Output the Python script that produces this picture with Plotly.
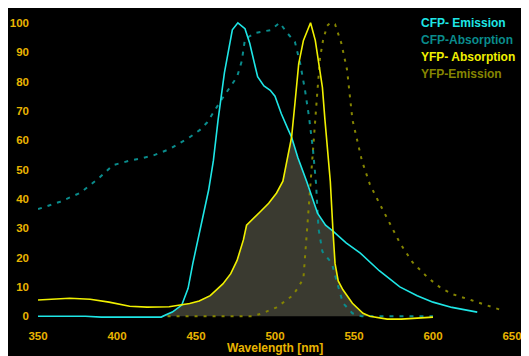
import numpy as np
import plotly.graph_objects as go

# ---- data ----
cfp_em_x = [350, 380, 390, 428, 431, 435, 441, 445, 448, 452.5, 458, 461, 464, 468, 473, 476.5, 481, 484, 489, 493, 497, 500, 504, 508, 510.5, 514.5, 520, 527, 532, 536.7, 545, 554, 566, 579, 590, 600, 612, 628]
cfp_em_y = [0, 0, -0.3, -0.3, 0.5, 1.4, 3.8, 9.5, 18, 29, 43, 53, 67, 83, 97.6, 100, 98, 93, 81.6, 78.5, 77, 75, 69, 64, 61, 54, 46, 35, 31, 29, 25, 21.5, 15.5, 10, 7, 4.8, 3, 1.4]

cfp_abs_x = [350, 364, 376.6, 388, 397.5, 408, 422, 433.5, 446, 452.5, 457, 466, 476, 479, 481, 488, 497, 503, 507.6, 512.6, 516, 519, 521.5, 524, 526, 527.5, 530, 536, 539, 543, 549, 555, 580, 600]
cfp_abs_y = [36.5, 39, 42, 46.8, 51.5, 53, 54.6, 57, 61, 63.5, 66, 73.7, 81.6, 87, 94.5, 96.6, 97.5, 100, 96.6, 93.5, 86, 77, 68, 57, 45, 30, 22, 18, 12, 4.5, 1, 0, 0, 0]

yfp_abs_x = [350, 360, 370, 383, 395, 408, 419, 433, 441, 446, 452, 459, 467, 472, 476, 480, 482, 486, 490.5, 496, 501, 505, 508, 510.5, 512.7, 515, 518, 522.5, 525.5, 528.5, 530, 531.6, 533.5, 535, 536.7, 538, 540, 543, 549, 555.7, 560, 571, 580, 592, 600]
yfp_abs_y = [5.5, 5.8, 6.1, 5.8, 4.8, 3.4, 3.1, 3.2, 3.8, 4.3, 5.2, 7, 11, 14.5, 19, 26, 31, 33, 35.5, 38.5, 42, 46, 54, 61, 73, 86, 94, 100, 94, 84, 78, 67, 55, 46, 29, 18, 12, 9, 4.4, 1, 0, -1, -1, -0.5, -0.3]

yfp_em_x = [432, 460, 486, 492, 501, 511, 515, 518, 520, 522, 524, 526.6, 528.5, 530.4, 533, 535, 538, 542, 545.6, 547.5, 549, 555, 560, 565, 571, 579, 587, 597, 605, 612.5, 624, 636, 643.7]
yfp_em_y = [0, 0, 0, 1, 3, 7, 10, 13, 28, 44, 58, 75, 88, 94, 99, 100, 99.5, 93, 84, 75, 67, 53, 45, 39.6, 33.4, 25, 18.4, 13, 9.6, 7.5, 5.5, 3.5, 2]

x_ticks = [350, 400, 450, 500, 550, 600, 650]
y_ticks = [0, 10, 20, 30, 40, 50, 60, 70, 80, 90, 100]
legend_labels = ["CFP- Emission", "CFP-Absorption", "YFP- Absorption", "YFP-Emission"]

# ---- overlap region (min of CFP emission and YFP absorption), picked from the arrays ----
ce_x, ce_y = np.array(cfp_em_x), np.array(cfp_em_y)
ya_x, ya_y = np.array(yfp_abs_x), np.array(yfp_abs_y)
m1 = (ce_x >= 428) & (ce_x <= 441)
m2 = (ya_x > 441) & (ya_x <= 510.5)
m3 = (ce_x > 510.5) & (ce_x <= 536.7)
m4 = (ya_x > 536.7) & (ya_x <= 560)
ov_x = np.concatenate([ce_x[m1], ya_x[m2], ce_x[m3], ya_x[m4]])
ov_y = np.clip(np.concatenate([ce_y[m1], ya_y[m2], ce_y[m3], ya_y[m4]]), 0, None)

C_CYAN = "#1ee6e6"
C_TEAL = "#0a8c8c"
C_YEL = "#f0f000"
C_OLIVE = "#858500"
C_GOLD = "#e8b400"

fig = go.Figure()
fig.add_trace(go.Scatter(x=ov_x, y=ov_y, mode="lines", fill="tozeroy",
                         fillcolor="#3a3a30", line=dict(width=0, color="#3a3a30"),
                         hoverinfo="skip", showlegend=False))
fig.add_trace(go.Scatter(x=yfp_em_x, y=yfp_em_y, mode="lines", name=legend_labels[3],
                         line=dict(color=C_OLIVE, width=2, dash="3px,6px")))
fig.add_trace(go.Scatter(x=cfp_abs_x, y=cfp_abs_y, mode="lines", name=legend_labels[1],
                         line=dict(color=C_TEAL, width=2, dash="4px,6px")))
fig.add_trace(go.Scatter(x=cfp_em_x, y=cfp_em_y, mode="lines", name=legend_labels[0],
                         line=dict(color=C_CYAN, width=1.6)))
fig.add_trace(go.Scatter(x=yfp_abs_x, y=yfp_abs_y, mode="lines", name=legend_labels[2],
                         line=dict(color=C_YEL, width=1.6)))

font_fam = "Liberation Sans, Arial, sans-serif"
fig.update_layout(
    width=521, height=348,
    paper_bgcolor="black", plot_bgcolor="black",
    margin=dict(l=30, r=17, t=6, b=31),
    showlegend=False,
    font=dict(family=font_fam, color=C_GOLD, size=11.5, weight="bold"),
    xaxis=dict(range=[350, 650], tickvals=x_ticks, showgrid=False, zeroline=False,
               showline=False, ticks="", ticklabelstandoff=2, automargin=False,
               tickfont=dict(size=11.5, color=C_GOLD, weight="bold")),
    yaxis=dict(range=[-3, 103], tickvals=y_ticks, showgrid=False, zeroline=False,
               showline=False, ticks="", ticklabelstandoff=8, automargin=False,
               tickfont=dict(size=11.5, color=C_GOLD, weight="bold")),
)

fig.add_annotation(text="Wavelength [nm]", xref="paper", yref="paper", x=0.5, y=0,
                   yshift=-23, xanchor="center", yanchor="middle", showarrow=False,
                   font=dict(size=12, color=C_GOLD, weight="bold"))

leg_colors = [C_CYAN, C_TEAL, C_YEL, C_OLIVE]
for i, (lab, col) in enumerate(zip(legend_labels, leg_colors)):
    fig.add_annotation(text=lab, xref="paper", yref="paper", x=(419 - 38) / 474,
                       y=1, yshift=-9 - 17 * i, xanchor="left", yanchor="middle",
                       showarrow=False, font=dict(size=12, color=col, weight="bold"))

fig.write_html("out.html")
